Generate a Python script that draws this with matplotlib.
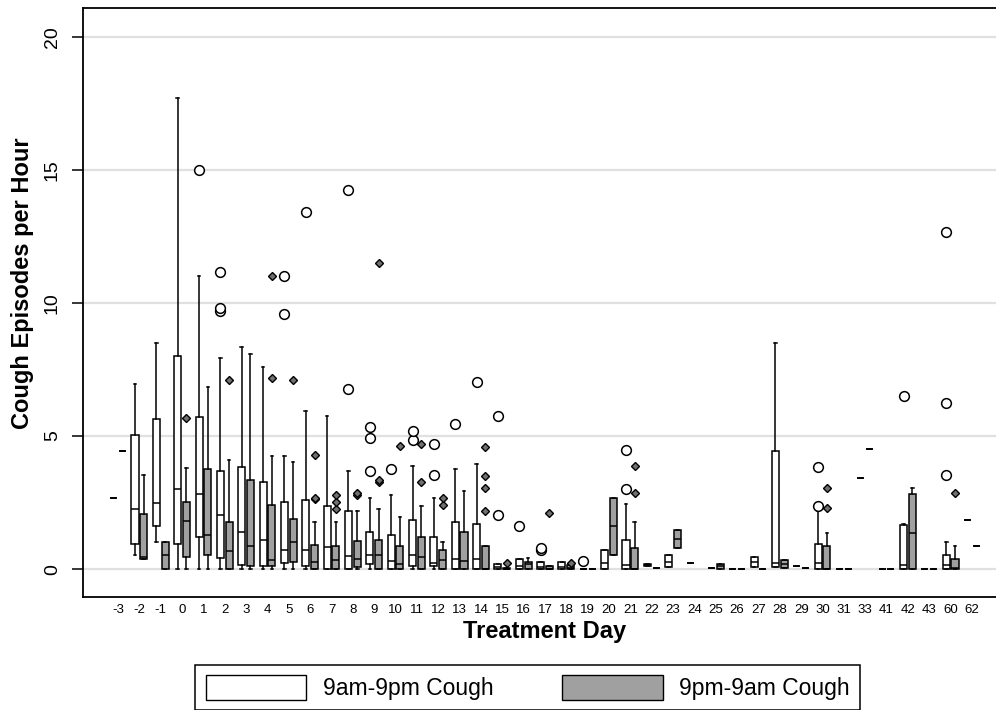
import numpy as np
import matplotlib.pyplot as plt
from matplotlib.patches import Patch

plt.rcParams["font.family"] = ["Liberation Sans", "DejaVu Sans"]

days = ["-3", "-2", "-1", "0", "1", "2", "3", "4", "5", "6", "7", "8", "9", "10",
        "11", "12", "13", "14", "15", "16", "17", "18", "19", "20", "21", "22", "23",
        "24", "25", "26", "27", "28", "29", "30", "31", "33", "41", "42", "43", "60", "62"]

# 9am-9pm cough (white boxes)
day_whislo = [2.69, 0.53, 1.03, 0, 0, 0, 0, 0, 0, 0, 0, 0, 0, 0, 0, 0, 0, 0, 0, 0, 0,
              0, 0, 0, 0, 0.11, 0.09, 0.23, 0.05, 0, 0.09, 0.06, 0.11, 0, 0, 3.43, 0,
              0, 0, 0, 1.85]
day_q1 = [2.69, 0.94, 1.62, 0.95, 1.19, 0.40, 0.15, 0.10, 0.21, 0.10, 0, 0, 0.18, 0,
          0.11, 0.11, 0, 0, 0, 0, 0, 0, 0, 0, 0, 0.11, 0.09, 0.23, 0.05, 0, 0.09,
          0.06, 0.11, 0, 0, 3.43, 0, 0, 0, 0, 1.85]
day_med = [2.69, 2.24, 2.48, 3.02, 2.82, 2.03, 1.38, 1.10, 0.70, 0.70, 0.83, 0.48,
           0.53, 0.30, 0.51, 0.21, 0.36, 0.36, 0.09, 0.10, 0.08, 0.08, 0, 0.21, 0.14,
           0.15, 0.28, 0.23, 0.05, 0, 0.26, 0.22, 0.11, 0.24, 0, 3.43, 0, 0.15, 0,
           0.15, 1.85]
day_q3 = [2.69, 5.03, 5.64, 8.02, 5.73, 3.68, 3.82, 3.27, 2.52, 2.58, 2.36, 2.19,
          1.38, 1.28, 1.85, 1.19, 1.77, 1.70, 0.18, 0.36, 0.28, 0.25, 0, 0.70, 1.08,
          0.19, 0.54, 0.23, 0.05, 0, 0.46, 4.45, 0.11, 0.94, 0, 3.43, 0, 1.64, 0,
          0.51, 1.85]
day_whishi = [2.69, 6.94, 8.51, 17.7, 11.0, 7.92, 8.36, 7.60, 4.26, 5.94, 5.76, 3.68,
              2.69, 2.78, 3.86, 2.69, 3.78, 3.95, 0.18, 0.36, 0.28, 0.25, 0, 0.70,
              2.44, 0.19, 0.54, 0.23, 0.05, 0, 0.46, 8.5, 0.11, 2.17, 0, 3.43, 0,
              1.69, 0, 1.02, 1.85]
day_fliers = [[], [], [], [], [15.0], [9.7, 9.8, 11.15], [], [], [9.6, 11.0], [13.42],
              [], [6.77, 14.25], [3.70, 4.94, 5.35], [3.78], [4.86, 5.2], [3.52, 4.69],
              [5.44], [7.02], [2.04, 5.76], [1.63], [0.71, 0.78], [], [0.3], [],
              [3.0, 4.46], [], [], [], [], [], [], [], [], [2.36, 3.82], [], [], [],
              [6.52], [], [3.52, 6.24, 12.67], []]

# 9pm-9am cough (grey boxes), nan = no observations
night_whislo = [4.45, 0.39, 0, 0, 0, 0, 0, 0, 0, 0, 0, 0, 0, 0, 0, 0, 0, 0, 0, 0, 0,
                0, 0, 0.53, 0, 0.05, 0.81, np.nan, 0, 0, 0, 0.03, 0.03, 0, 0, 4.51, 0,
                0, 0, 0, 0.86]
night_q1 = [4.45, 0.39, 0, 0.44, 0.53, 0, 0.11, 0.11, 0.25, 0, 0, 0.09, 0, 0, 0, 0,
            0, 0, 0, 0, 0, 0, 0, 0.53, 0, 0.05, 0.81, np.nan, 0, 0, 0, 0.03, 0.03, 0,
            0, 4.51, 0, 0, 0, 0, 0.86]
night_med = [4.45, 0.46, 0.53, 1.82, 1.27, 0.69, 0.85, 0.34, 1.03, 0.25, 0.34, 0.39,
             0.53, 0.18, 0.44, 0.34, 0.30, 0, 0, 0.18, 0, 0.05, 0, 1.62, 0, 0.05,
             1.14, np.nan, 0.10, 0, 0, 0.19, 0.03, 0, 0, 4.51, 0, 1.35, 0, 0.05, 0.86]
night_q3 = [4.45, 2.08, 1.03, 2.52, 3.77, 1.77, 3.35, 2.39, 1.90, 0.90, 0.86, 1.04,
            1.10, 0.86, 1.19, 0.70, 1.38, 0.85, 0.04, 0.28, 0.11, 0.15, 0, 2.69, 0.78,
            0.05, 1.45, np.nan, 0.19, 0, 0, 0.34, 0.03, 0.85, 0, 4.51, 0, 2.84, 0,
            0.36, 0.86]
night_whishi = [4.45, 3.52, 1.03, 3.81, 6.84, 4.10, 8.10, 4.26, 4.02, 1.77, 1.77, 2.19,
                2.27, 1.94, 2.36, 1.03, 2.94, 0.85, 0.04, 0.43, 0.11, 0.15, 0, 2.69,
                1.78, 0.05, 1.45, np.nan, 0.19, 0, 0, 0.34, 0.03, 1.35, 0, 4.51, 0,
                3.03, 0, 0.85, 0.86]
night_fliers = [[], [], [], [5.68], [], [7.09], [], [7.18, 11.0], [7.09],
                [2.65, 2.69, 4.27], [2.27, 2.52, 2.78], [2.80, 2.87], [3.27, 3.36, 11.5],
                [4.61], [3.27, 4.69], [2.39, 2.69], [], [2.2, 3.03, 3.48, 4.57], [0.21],
                [], [2.1], [0.21], [], [], [2.86, 3.87], [], [], [], [], [], [], [], [],
                [2.28, 3.03], [], [], [], [], [], [2.86], []]


def make_stats(lo, q1, med, q3, hi, fliers):
    stats, keep = [], []
    for i in range(len(lo)):
        if np.isnan(med[i]):
            continue
        stats.append(dict(whislo=lo[i], q1=q1[i], med=med[i], q3=q3[i],
                          whishi=hi[i], fliers=fliers[i]))
        keep.append(i)
    return stats, np.array(keep)


fig = plt.figure(figsize=(9.96, 7.10), dpi=100)
ax = fig.add_axes([83 / 996, 113 / 710, 924 / 996, 589 / 710])

x = np.arange(len(days))
offset = 0.205
box_w = 0.33

common = dict(widths=box_w, patch_artist=True, capwidths=0.12,
              medianprops=dict(color="black", lw=1.1),
              whiskerprops=dict(color="black", lw=1.1),
              capprops=dict(color="black", lw=1.1))

day_stats, day_idx = make_stats(day_whislo, day_q1, day_med, day_q3, day_whishi, day_fliers)
ax.bxp(day_stats, positions=x[day_idx] - offset,
       boxprops=dict(facecolor="white", edgecolor="black", lw=1.1),
       flierprops=dict(marker="o", markerfacecolor="white", markeredgecolor="black",
                       markersize=7, markeredgewidth=1.1),
       **common)

night_stats, night_idx = make_stats(night_whislo, night_q1, night_med, night_q3,
                                    night_whishi, night_fliers)
ax.bxp(night_stats, positions=x[night_idx] + offset,
       boxprops=dict(facecolor="#a0a0a0", edgecolor="black", lw=1.1),
       flierprops=dict(marker="D", markerfacecolor="#707070", markeredgecolor="black",
                       markersize=4.5, markeredgewidth=1.0),
       **common)

ax.set_xlim(-1.64, 41.64)
ax.set_ylim(-1.05, 21.09)
ax.set_xticks(x)
ax.set_xticklabels(days, fontsize=9.5)
ax.tick_params(axis="x", length=0, pad=5)
ax.set_yticks([0, 5, 10, 15, 20])
ax.set_yticklabels(["0", "5", "10", "15", "20"], rotation=90, va="center", fontsize=14)
ax.tick_params(axis="y", length=8, width=1.1, pad=8)
ax.yaxis.grid(True, color="#e0e0e0", lw=1.6)
ax.set_axisbelow(True)
for s in ax.spines.values():
    s.set_linewidth(1.3)

ax.set_xlabel("Treatment Day", fontsize=17, fontweight="bold")
ax.xaxis.set_label_coords(0.5, -0.0594)
ax.xaxis.label.set_va("center")
ax.set_ylabel("Cough Episodes per Hour", fontsize=17, fontweight="bold")
ax.yaxis.set_label_coords(-0.065, 0.533)
ax.yaxis.label.set_va("center")

handles = [Patch(facecolor="white", edgecolor="black", lw=1),
           Patch(facecolor="#a0a0a0", edgecolor="black", lw=1)]
leg = fig.legend(handles, ["9am-9pm Cough", "9pm-9am Cough"], loc="center",
                 bbox_to_anchor=(527.5 / 996, 22.5 / 710), ncol=2, fontsize=16.5,
                 frameon=True, fancybox=False, edgecolor="black", framealpha=1,
                 handlelength=4.4, handleheight=1.3, handletextpad=0.7,
                 columnspacing=3.0, borderpad=0.45)
leg.get_frame().set_linewidth(1.1)

fig.savefig("out.png", dpi=100)
